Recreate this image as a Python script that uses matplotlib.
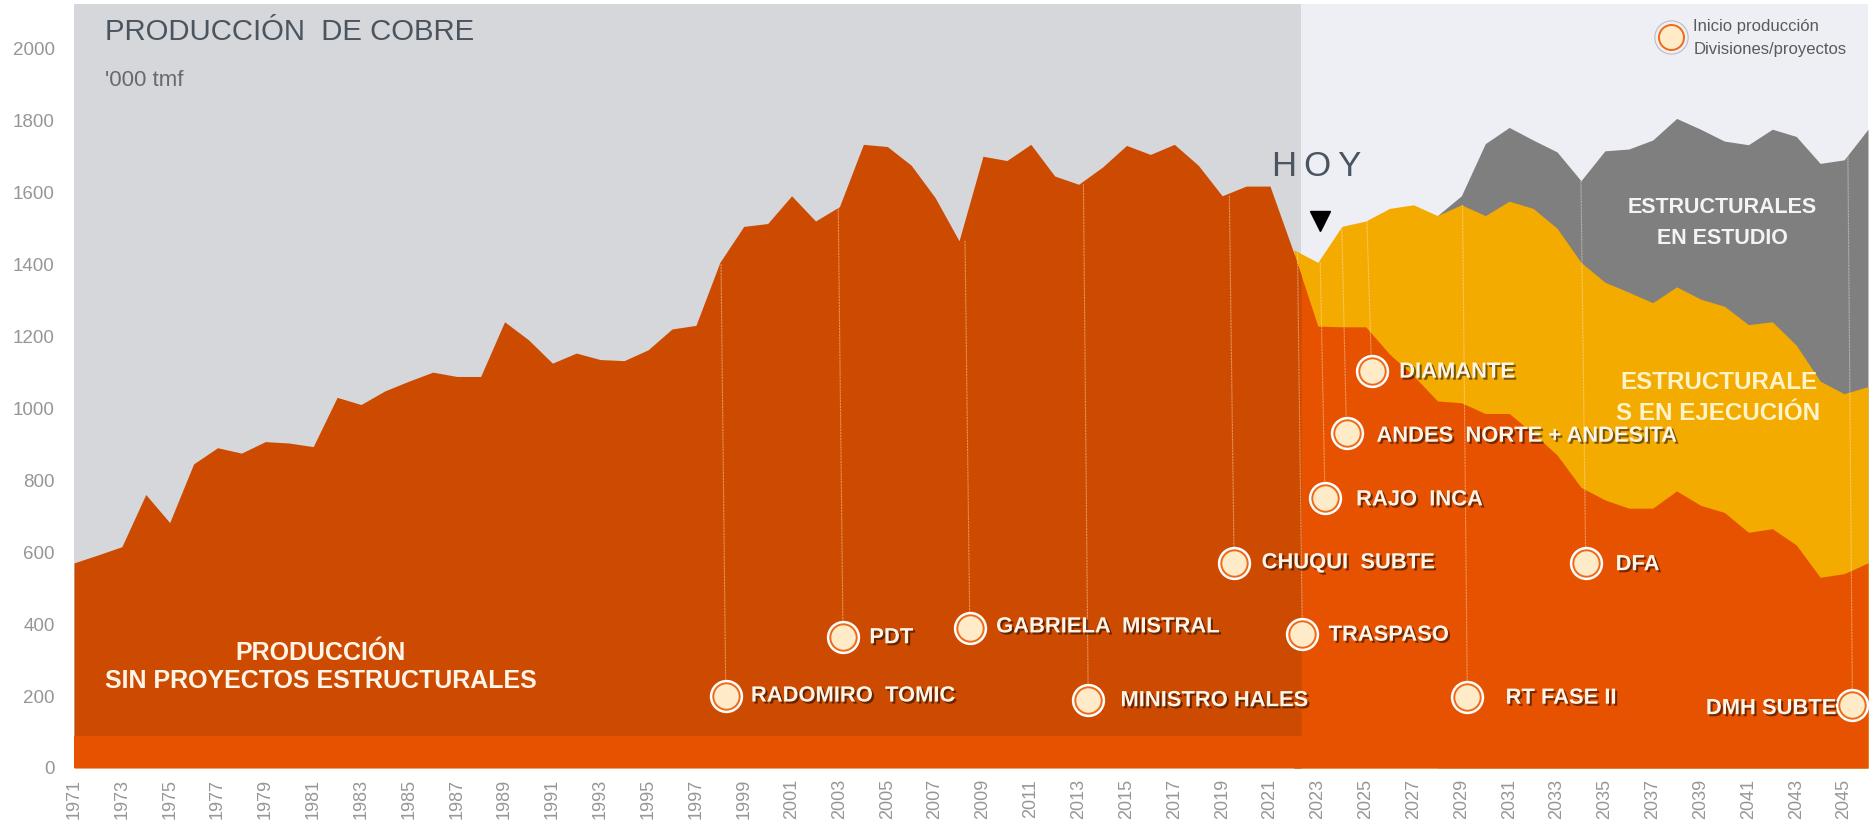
import matplotlib
matplotlib.use('Agg')
import matplotlib.pyplot as plt
import matplotlib.patheffects as pe

plt.rcParams['font.family'] = ['Liberation Sans', 'DejaVu Sans']

# --- Data ('000 tmf) ---
years_hist = list(range(1971, 2023)) + [2022.3]
prod_hist = [570, 592, 615, 760, 682, 845, 890, 875, 907, 903, 893, 1030, 1010, 1048, 1075, 1100,
             1088, 1088, 1240, 1190, 1125, 1153, 1135, 1132, 1162, 1220, 1230, 1405, 1505, 1513,
             1590, 1520, 1560, 1733, 1727, 1675, 1585, 1465, 1700, 1688, 1733, 1645, 1622, 1670,
             1730, 1705, 1733, 1675, 1590, 1617, 1617, 1430, 1370]

years_fut = list(range(2022, 2047))
base_fut = [1430, 1228, 1226, 1226, 1150, 1090, 1020, 1015, 985, 985, 930, 870, 780, 745, 722,
            722, 770, 730, 710, 655, 665, 620, 530, 540, 570]
ejec_top = [1440, 1405, 1505, 1520, 1555, 1565, 1535, 1565, 1535, 1575, 1555, 1500, 1405, 1350,
            1322, 1293, 1337, 1303, 1283, 1232, 1240, 1175, 1075, 1040, 1060]

years_est = list(range(2028, 2047))
estudio_top = [1535, 1590, 1735, 1780, 1745, 1712, 1632, 1715, 1720, 1745, 1805, 1775, 1742, 1732,
               1775, 1755, 1680, 1690, 1775]

project_names = ['RADOMIRO  TOMIC', 'PDT', 'GABRIELA  MISTRAL', 'MINISTRO HALES', 'CHUQUI  SUBTE',
                 'TRASPASO', 'RAJO  INCA', 'ANDES  NORTE + ANDESITA', 'DIAMANTE', 'RT FASE II', 'DFA',
                 'DMH SUBTE']
project_x = [1998.25, 2003.15, 2008.45, 2013.4, 2019.5, 2022.35, 2023.3, 2024.2, 2025.25, 2029.25,
             2034.2, 2045.35]
project_y = [200, 365, 390, 190, 570, 372, 750, 930, 1103, 197, 570, 175]
leader_top = [1400, 1560, 1465, 1622, 1590, 1430, 1405, 1505, 1520, 1565, 1632, 1775]

x_ticks = list(range(1971, 2046, 2))
y_ticks = list(range(0, 2001, 200))

# --- Colours ---
c_bg_hist = '#D6D7DB'
c_bg_fut = '#EEEFF5'
c_hist = '#CC4B00'
c_base = '#E65200'
c_ejec = '#F4AB00'
c_est = '#7F7F7F'
c_tick = '#969696'
c_title = '#4A5560'

today = 2022.3
x0, x1 = 1971, 2046
y1 = 2123

fig = plt.figure(figsize=(18.74, 8.25), dpi=100)
ax = fig.add_axes([74 / 1874, 1 - 768 / 825, (1868 - 74) / 1874, (768 - 4) / 825])

# --- Backgrounds ---
ax.axvspan(x0, today, color=c_bg_hist, lw=0, zorder=0)
ax.axvspan(today, x1, color=c_bg_fut, lw=0, zorder=0)

# --- Stacked areas ---
ax.fill_between(years_est, 0, estudio_top, color=c_est, lw=0, zorder=1)
ax.fill_between(years_fut, 0, ejec_top, color=c_ejec, lw=0, zorder=2)
ax.fill_between(years_fut, 0, base_fut, color=c_base, lw=0, zorder=3)
ax.fill_between(years_hist, 0, prod_hist, color=c_hist, lw=0, zorder=4)
ax.fill_between([x0, today + 0.05], 0, 90, color=c_base, lw=0, zorder=5)

# --- Leader lines and project markers ---
shadow = [pe.withSimplePatchShadow(offset=(1.5, -1.5), shadow_rgbFace='#000000', alpha=0.5)]
for px, py, top in zip(project_x, project_y, leader_top):
    ax.plot([px - 0.2, px], [top, py], color='#FFE9D0', lw=0.8, ls=(0, (2, 0.6)), alpha=0.45, zorder=6)
    ax.plot(px, py, 'o', ms=24, mfc='white', mec='none', zorder=7)
    ax.plot(px, py, 'o', ms=19, mfc='#FFEBC8', mec='#EE6A1A', mew=1.4, zorder=8)

label_dx = [1.05, 1.1, 1.1, 1.35, 1.15, 1.1, 1.3, 1.25, 1.15, 1.6, 1.25, -0.65]
label_dy = [0, -3, 2, -3, 0, -3, -5, -8, -3, -3, -5, -10]
for name, px, py, dx, dy in zip(project_names, project_x, project_y, label_dx, label_dy):
    ax.text(px + dx, py + dy, name, color='#FFF4E8', fontsize=15.8, fontweight='bold',
            ha='right' if dx < 0 else 'left', va='center', zorder=9, path_effects=shadow)

# --- Legend marker ---
ax.plot(2037.75, 2030, 'o', ms=24, mfc='#EEEFF5', mec='#BDBDBD', mew=0.8, zorder=7)
ax.plot(2037.75, 2030, 'o', ms=18, mfc='#FFEBC8', mec='#EE6A1A', mew=1.4, zorder=8)
ax.text(2038.7, 2060, 'Inicio producción', color='#5A5A5A', fontsize=12, va='center', zorder=9)
ax.text(2038.7, 1997, 'Divisiones/proyectos', color='#5A5A5A', fontsize=12, va='center', zorder=9)

# --- Titles and area names ---
ax.text(1972.3, 2045, 'PRODUCCIÓN  DE COBRE', color=c_title, fontsize=21.2, va='center', zorder=9)
ax.text(1972.3, 1910, "'000 tmf", color='#666A70', fontsize=16, va='center', zorder=9)
ax.text(2021.1, 1671, 'H\u2009O\u2009Y', color=c_title, fontsize=25, va='center', zorder=9)
ax.plot(2023.1, 1520, 'v', color='black', ms=14, zorder=9)

ax.text(1981.3, 281, 'PRODUCCIÓN\nSIN PROYECTOS ESTRUCTURALES', color='#FFF4E8', fontsize=18, fontweight='bold',
        ha='center', va='center', linespacing=1.25, zorder=9)
ax.text(2039.9, 1515, 'ESTRUCTURALES\nEN ESTUDIO', color='#F4F4F4', fontsize=15.5, fontweight='bold',
        ha='center', va='center', linespacing=1.65, zorder=9)
ax.text(2039.75, 1028, 'ESTRUCTURALE\nS EN EJECUCIÓN', color='#FFF3CC', fontsize=17.4, fontweight='bold',
        ha='center', va='center', linespacing=1.42, zorder=9)

# --- Axes ---
ax.set_xlim(x0, x1)
ax.set_ylim(0, y1)
ax.set_xticks(x_ticks)
ax.set_xticklabels([str(y) for y in x_ticks], rotation=90, fontsize=13, color=c_tick)
ax.set_yticks(y_ticks)
ax.set_yticklabels([str(y) for y in y_ticks], fontsize=13.5, color=c_tick)
ax.tick_params(axis='x', length=0, pad=8)
ax.tick_params(axis='y', length=0, pad=14)
for s in ax.spines.values():
    s.set_visible(False)

plt.savefig('out.png', dpi=100)
